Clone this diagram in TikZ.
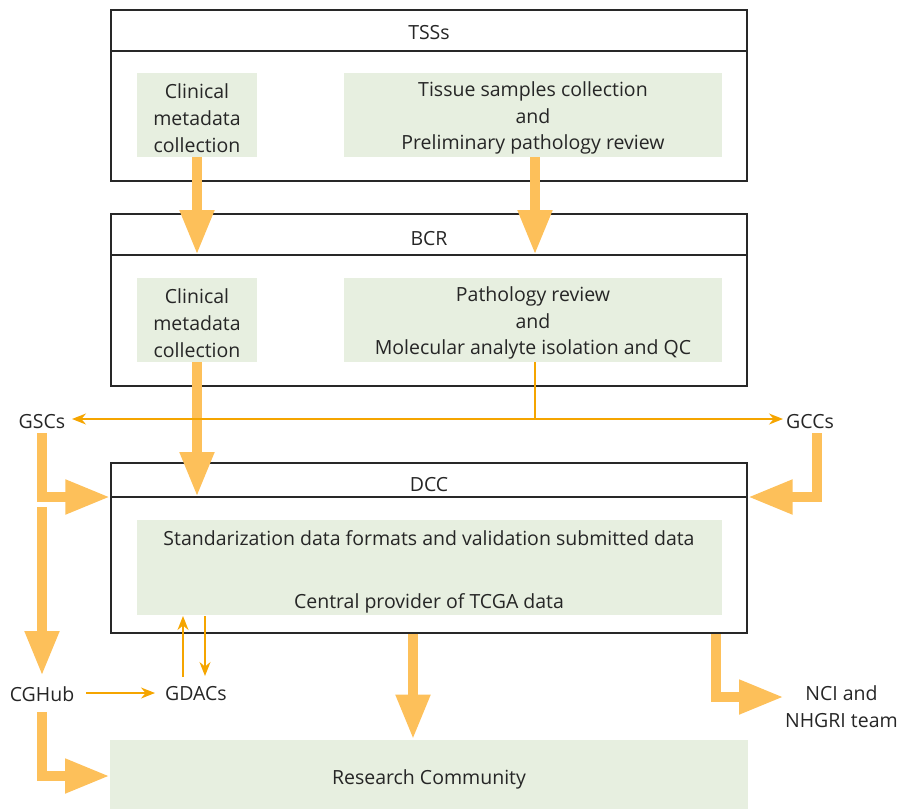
\documentclass[tikz,border=0pt]{standalone}
\usepackage{fontspec}
\setmainfont{Open Sans}
\usetikzlibrary{arrows.meta,positioning}
\definecolor{flowgold}{RGB}{253,192,90}
\definecolor{linkorange}{RGB}{245,165,0}
\definecolor{panelgreen}{RGB}{231,239,224}
\definecolor{framegray}{RGB}{40,40,40}

\begin{document}
\begin{tikzpicture}[x=0.02cm, y=-0.02cm,
    stage/.style={draw=framegray, line width=0.75pt, minimum width=12.72cm, inner sep=0pt},
    panel/.style={fill=panelgreen, inner sep=0pt},
    label/.style={font=\fontsize{11.1}{15.3}\selectfont, align=center, text=black!85},
    bigflow/.style={flowgold, line width=0.21cm, -{Triangle[width=0.64cm, length=0.9cm]}},
    link/.style={linkorange, line width=0.8pt, -{Stealth[length=0.28cm, width=0.22cm]}}
]
\useasboundingbox (0,0) rectangle (900,809);

% TSS BLOCK
\node[stage, minimum height=3.42cm] (tss) at (429,95.5) {};
\draw[framegray, line width=0.75pt] (tss.west |- 0,51) -- (tss.east |- 0,51);
\node[label] (tsstitle) at (429,33) {TSSs};
\node[panel, minimum width=2.4cm, minimum height=1.68cm] (tssclin) at (197,115) {};
\node[label] at (197,118) {Clinical\\metadata\\collection};
\node[panel, minimum width=7.56cm, minimum height=1.68cm] (tsstis) at (533,115) {};
\node[label] at (533,118) {Tissue samples collection\\and\\Preliminary pathology review};

% BCR BLOCK
\node[stage, minimum height=3.44cm] (bcr) at (429,300) {};
\coordinate (bcrline) at (429,255);
\draw[framegray, line width=0.75pt] (bcr.west |- bcrline) -- (bcr.east |- bcrline);
\node[label] (bcrtitle) at (429,239) {BCR};
\node[panel, minimum width=2.4cm, minimum height=1.68cm] (bcrclin) at (197,320) {};
\node[label] at (197,323) {Clinical\\metadata\\collection};
\node[panel, minimum width=7.56cm, minimum height=1.68cm] (bcrpath) at (533,320) {};
\node[label] at (533,323) {Pathology review\\and\\Molecular analyte isolation and QC};

% DCC BLOCK
\node[stage, minimum height=3.40cm] (dcc) at (429,548) {};
\coordinate (dccline) at (429,497);
\draw[framegray, line width=0.75pt] (dcc.west |- dccline) -- (dcc.east |- dccline);
\node[label] (dcctitle) at (429,485) {DCC};
\node[panel, minimum width=11.7cm, minimum height=1.9cm] (dccstd) at (429.5,567.5) {};
\node[label] (stdtext) at (429,538) {Standarization data formats and validation submitted data};
\node[label] (provtext) at (429,603) {Central provider of TCGA data};

% outside parties
\node[label] (gsc) at (42,422) {GSCs};
\node[label] (gcc) at (810,422) {GCCs};
\node[label] (cghub) at (42,694) {CGHub};
\node[label] (gdacs) at (196,694) {GDACs};
\node[label, anchor=east, inner sep=0.5pt] (nci) at (899,707) {NCI and\\NHGRI team};
\node[panel, minimum width=12.76cm, minimum height=1.38cm] (research) at (429,774.5) {};
\node[label] (restext) at (429,779) {Research Community};

% thick flows
\draw[bigflow] (tssclin.south) -- (tssclin.south |- bcrline);
\draw[bigflow] (535,157) -- (535,255);
\draw[bigflow] (bcrclin.south) -- (bcrclin.south |- dccline);
\draw[bigflow] (42,433) |- (dcc.west |- dccline);
\draw[bigflow] (817,433) |- (dcc.east |- dccline);
\draw[bigflow] (42,507) -- (42,676);
\draw[bigflow] (42,712) |- (110,776);
\draw[bigflow] (413,634) -- (research.north -| 413,0);
\draw[bigflow] (716,634) |- (784,697);

% thin links
\coordinate (split) at (535,419);
\draw[linkorange, line width=0.8pt] (bcrpath.south -| split) -- (split);
\draw[link, {Stealth[length=0.28cm, width=0.22cm]}-{Stealth[length=0.28cm, width=0.22cm]}] (72,419) -- (783,419);
\draw[link] (86,693) -- (155,693);
\draw[link] (183,677) -- (183,616);
\draw[link] (205,616) -- (205,676);

\end{tikzpicture}
\end{document}
